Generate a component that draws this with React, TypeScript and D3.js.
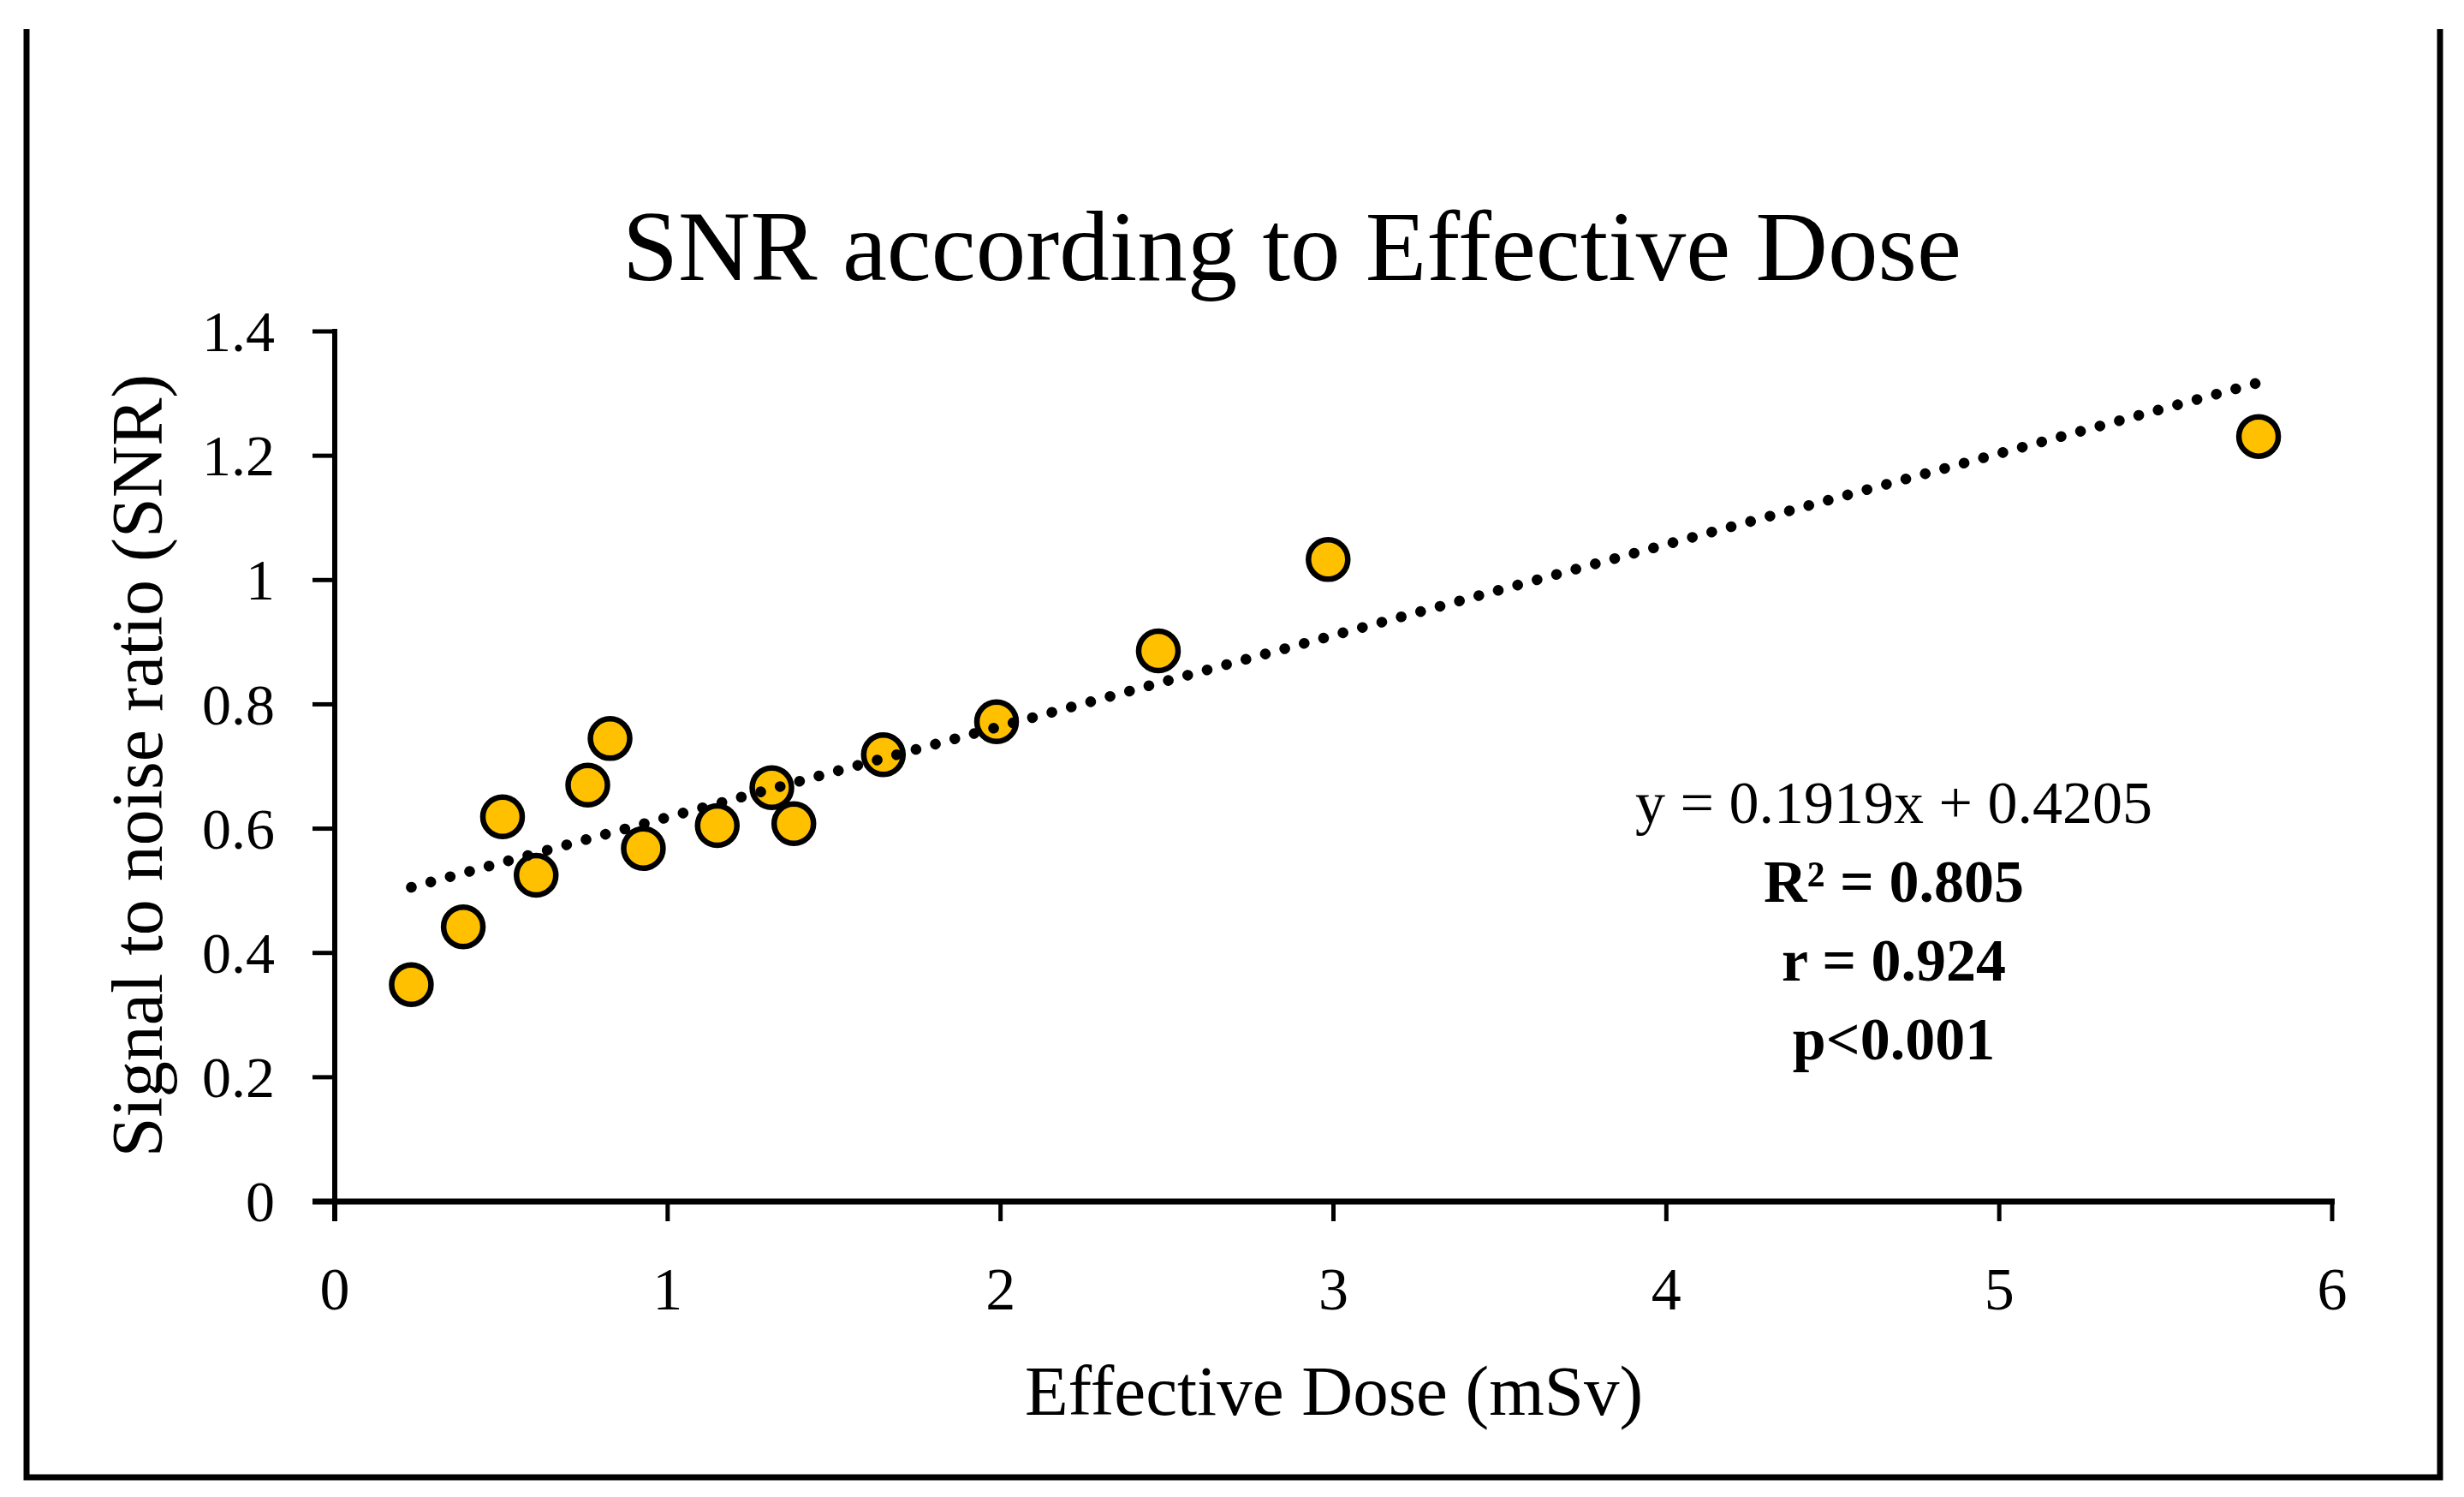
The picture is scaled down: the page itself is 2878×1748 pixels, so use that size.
import React, { useMemo } from "react";
import * as d3 from "d3";

const WIDTH = 2878;
const HEIGHT = 1748;
const MARGIN = { top: 387, right: 154, bottom: 345, left: 391 };
const FONT = "'Palatino Linotype', 'Book Antiqua', Palatino, 'Liberation Serif', serif";

// effective dose (mSv) and SNR
const doseValues = [0.23, 0.386, 0.504, 0.605, 0.76, 0.827, 0.927, 1.149, 1.313, 1.379, 1.648, 1.988, 2.474, 2.984, 5.779];
const snrValues = [0.349, 0.442, 0.619, 0.525, 0.67, 0.745, 0.568, 0.605, 0.666, 0.608, 0.719, 0.772, 0.886, 1.033, 1.231];

const xTicks = [0, 1, 2, 3, 4, 5, 6];
const yTicks = [0, 0.2, 0.4, 0.6, 0.8, 1, 1.2, 1.4];

const statLines = [
  { text: "y = 0.1919x + 0.4205", bold: false },
  { text: "R\u00B2 = 0.805", bold: true },
  { text: "r = 0.924", bold: true },
  { text: "p<0.001", bold: true },
];

const App = () => {
  const boundsWidth = WIDTH - MARGIN.left - MARGIN.right;
  const boundsHeight = HEIGHT - MARGIN.top - MARGIN.bottom;

  const xScale = useMemo(() => d3.scaleLinear().domain([0, 6]).range([0, boundsWidth]), [boundsWidth]);
  const yScale = useMemo(() => d3.scaleLinear().domain([0, 1.4]).range([boundsHeight, 0]), [boundsHeight]);

  const points = doseValues.map((x, i) => ({ x, y: snrValues[i] }));

  // least squares fit of the points for the dotted trendline
  const mx = d3.mean(doseValues) as number;
  const my = d3.mean(snrValues) as number;
  const sxy = d3.sum(points, (p) => (p.x - mx) * (p.y - my));
  const sxx = d3.sum(points, (p) => (p.x - mx) ** 2);
  const slope = sxy / sxx;
  const intercept = my - slope * mx;
  const [xMin, xMax] = d3.extent(doseValues) as [number, number];
  const trend = d3
    .line<number>()
    .x((d) => xScale(d))
    .y((d) => yScale(slope * d + intercept))([xMin, xMax]);

  return (
    <div style={{ position: "absolute", left: 0, top: 0 }}>
      <svg width={WIDTH} height={HEIGHT} style={{ display: "block", background: "white" }}>
        {/* frame */}
        <path d={`M31,34 V1725 H2850 V34`} fill="none" stroke="black" strokeWidth={7} />

        <text x={1509} y={327} textAnchor="middle" fontFamily={FONT} fontSize={117}>
          SNR according to Effective Dose
        </text>

        <g transform={`translate(${MARGIN.left},${MARGIN.top})`}>
          {/* y axis */}
          <line x1={0} x2={0} y1={-3} y2={boundsHeight + 23} stroke="black" strokeWidth={6} />
          {yTicks.map((t) => (
            <g key={t}>
              <line x1={-26} x2={0} y1={yScale(t)} y2={yScale(t)} stroke="black" strokeWidth={5} />
              <text x={-70} y={yScale(t)} dy="0.34em" textAnchor="end" fontFamily={FONT} fontSize={68}>
                {t}
              </text>
            </g>
          ))}

          {/* x axis */}
          <line x1={-26} x2={boundsWidth + 3} y1={boundsHeight} y2={boundsHeight} stroke="black" strokeWidth={7} />
          {xTicks.map((t) => (
            <g key={t}>
              <line x1={xScale(t)} x2={xScale(t)} y1={boundsHeight} y2={boundsHeight + 23} stroke="black" strokeWidth={5} />
              <text x={xScale(t)} y={boundsHeight + 126} textAnchor="middle" fontFamily={FONT} fontSize={70}>
                {t}
              </text>
            </g>
          ))}

          {/* points */}
          {points.map((p, i) => (
            <circle key={i} cx={xScale(p.x)} cy={yScale(p.y)} r={23} fill="#FFC000" stroke="black" strokeWidth={6.5} />
          ))}

          {/* trendline */}
          <path
            d={trend ?? ""}
            fill="none"
            stroke="black"
            strokeWidth={12.5}
            strokeLinecap="round"
            strokeDasharray="0.1 23.4"
          />
        </g>

        <text x={1558} y={1652} textAnchor="middle" fontFamily={FONT} fontSize={83}>
          Effective Dose (mSv)
        </text>
        <text
          transform={`translate(189,894) rotate(-90)`}
          textAnchor="middle"
          fontFamily={FONT}
          fontSize={84}
        >
          Signal to noise ratio (SNR)
        </text>

        {statLines.map((l, i) => (
          <text
            key={i}
            x={2212}
            y={961 + i * 92}
            textAnchor="middle"
            fontFamily={FONT}
            fontSize={70}
            fontWeight={l.bold ? "bold" : "normal"}
          >
            {l.text}
          </text>
        ))}
      </svg>
    </div>
  );
};

export default App;
